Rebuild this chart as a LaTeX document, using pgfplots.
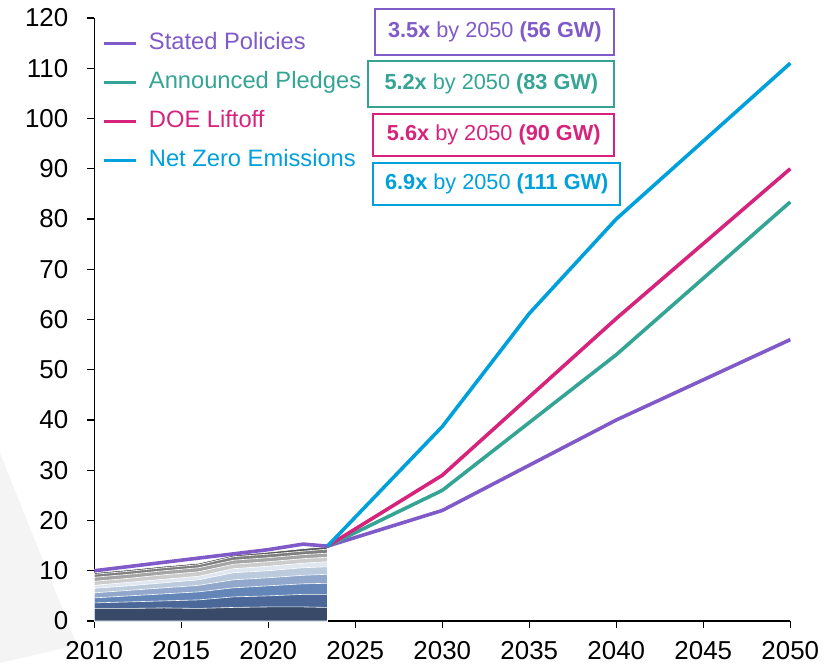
\documentclass[border=0pt]{standalone}
\usepackage{fontspec}
\setmainfont{Liberation Sans}
\usepackage{pgfplots}
\usepackage{pgfplotstable}
\pgfplotsset{compat=1.18}
\definecolor{cPurple}{RGB}{128,90,200}
\definecolor{cTeal}{RGB}{52,164,148}
\definecolor{cPink}{RGB}{214,36,124}
\definecolor{cBlue}{RGB}{0,160,220}
\definecolor{s1}{RGB}{57,74,104}
\definecolor{s2}{RGB}{75,103,151}
\definecolor{s3}{RGB}{99,133,184}
\definecolor{s4}{RGB}{145,168,204}
\definecolor{s5}{RGB}{188,202,222}
\definecolor{s6}{RGB}{225,231,241}
\definecolor{s7}{RGB}{204,204,204}
\definecolor{s8}{RGB}{165,165,165}
\definecolor{s9}{RGB}{127,127,127}
\definecolor{s10}{RGB}{89,89,89}

% cumulative tops of the historical stacked layers
\pgfplotstableread{
year   l1  l2  l3  l4  l5   l6   l7   l8   l9   l10
2010   2.5 3.6 4.6 5.6 6.5  7.1  7.9  8.7  9.3  9.6
2012   2.5 3.8 5.0 6.1 7.0  7.7  8.5  9.3  9.9  10.2
2014   2.6 4.0 5.4 6.6 7.6  8.3  9.2  10.0 10.6 10.9
2016   2.5 4.2 5.8 7.1 8.2  8.9  9.8  10.6 11.2 11.5
2018   2.7 4.8 6.6 8.2 9.6  10.4 11.3 12.1 12.8 13.1
2020   2.8 5.0 7.0 8.6 10.0 10.9 11.8 12.6 13.3 13.7
2022   2.8 5.3 7.4 9.1 10.6 11.5 12.4 13.2 13.9 14.4
2023.4 2.7 5.3 7.5 9.3 10.8 11.8 12.7 13.5 14.3 14.8
}\hist

\begin{document}
\begin{tikzpicture}
\useasboundingbox (0,0) rectangle (419bp,336bp);
\fill[gray!9] (0,109.5bp) -- (38.5bp,13.5bp) -- (0,4.5bp) -- cycle;
\begin{axis}[
  at={(47.15bp,25.5bp)}, anchor=south west,
  width=348bp, height=301.5bp, scale only axis,
  xmin=2010, xmax=2050, ymin=0, ymax=120,
  axis x line*=bottom, axis y line*=left,
  xtick={2010,2015,...,2050}, ytick={0,10,...,120},
  xticklabel style={/pgf/number format/1000 sep={}, yshift=-3bp},
  yticklabel style={xshift=-6bp},
  tick align=outside, major tick length=3.5bp,
  tick style={black, line width=0.6pt},
  axis line style={black, line width=0.6pt},
  tick label style={font=\fontsize{13}{15}\selectfont},
  /pgf/number format/assume math mode=true,
  clip=false,
  legend cell align=left,
  legend image code/.code={\draw[#1, line width=1.8pt] (0bp,0bp) -- (16bp,0bp);},
  legend style={at={(0.011,0.9784)}, anchor=north west, draw=none, fill=none,
    inner sep=0pt, font=\fontsize{11.9}{14}\selectfont,
    nodes={inner sep=0pt, text height=9bp, text depth=3bp},
    row sep=7.5bp, column sep=5.5bp},
]
\addplot[fill=s10, draw=white, line width=0.3pt, forget plot] table[x=year,y=l10] {\hist} \closedcycle;
\addplot[fill=s9, draw=white, line width=0.3pt, forget plot] table[x=year,y=l9] {\hist} \closedcycle;
\addplot[fill=s8, draw=white, line width=0.3pt, forget plot] table[x=year,y=l8] {\hist} \closedcycle;
\addplot[fill=s7, draw=white, line width=0.3pt, forget plot] table[x=year,y=l7] {\hist} \closedcycle;
\addplot[fill=s6, draw=white, line width=0.3pt, forget plot] table[x=year,y=l6] {\hist} \closedcycle;
\addplot[fill=s5, draw=white, line width=0.3pt, forget plot] table[x=year,y=l5] {\hist} \closedcycle;
\addplot[fill=s4, draw=white, line width=0.3pt, forget plot] table[x=year,y=l4] {\hist} \closedcycle;
\addplot[fill=s3, draw=white, line width=0.3pt, forget plot] table[x=year,y=l3] {\hist} \closedcycle;
\addplot[fill=s2, draw=white, line width=0.3pt, forget plot] table[x=year,y=l2] {\hist} \closedcycle;
\addplot[fill=s1, draw=white, line width=0.3pt, forget plot] table[x=year,y=l1] {\hist} \closedcycle;
\addplot[cPurple, line width=1.8pt] coordinates {(2010,10) (2015,12.1) (2020,14.2) (2022,15.3) (2023.4,14.9) (2030,22) (2040,40) (2050,56)};
\addlegendentry{\textcolor{cPurple}{Stated Policies}}
\addplot[cTeal, line width=1.8pt] coordinates {(2023.4,14.9) (2030,26) (2040,53) (2050,83.4)};
\addlegendentry{\textcolor{cTeal}{Announced Pledges}}
\addplot[cPink, line width=1.8pt] coordinates {(2023.4,14.9) (2030,29) (2040,60.2) (2050,90)};
\addlegendentry{\textcolor{cPink}{DOE Liftoff}}
\addplot[cBlue, line width=1.8pt] coordinates {(2023.4,14.9) (2030,38.7) (2035,61.2) (2040,80) (2050,111)};
\addlegendentry{\textcolor{cBlue}{Net Zero Emissions}}

\tikzset{box/.style={line width=1bp, inner sep=0pt, minimum height=23bp, font=\fontsize{10.9}{12}\selectfont}}
\node[box, draw=cPurple, text=cPurple, minimum width=119.5bp] at (axis cs:2033.02,117.2) {\textbf{3.5x} by 2050 \textbf{(56 GW)}};
\node[box, draw=cTeal, text=cTeal, minimum width=123bp] at (axis cs:2032.82,106.8) {\textbf{5.2x} by 2050 \textbf{(83 GW)}};
\node[box, draw=cPink, text=cPink, minimum width=120.5bp, minimum height=21bp] at (axis cs:2032.96,96.8) {\textbf{5.6x} by 2050 \textbf{(90 GW)}};
\node[box, draw=cBlue, text=cBlue, minimum width=123.5bp, minimum height=21bp] at (axis cs:2033.13,87.0) {\textbf{6.9x} by 2050 \textbf{(111 GW)}};
\end{axis}
\end{tikzpicture}
\end{document}
